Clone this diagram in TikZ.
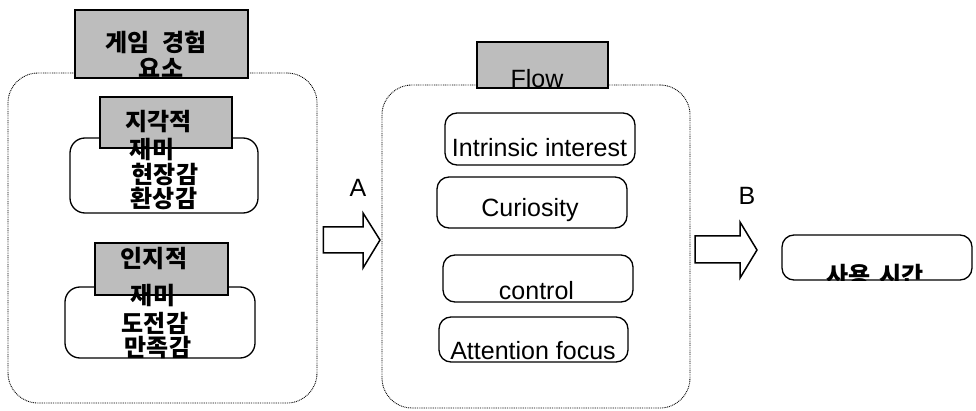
\documentclass[tikz,border=0pt]{standalone}
\usepackage{fontspec}
\usetikzlibrary{calc}
\setmainfont{Liberation Sans}
\newfontfamily\krfont{Noto Sans CJK KR}
\begin{document}
\begin{tikzpicture}[x=1pt,y=-1pt,
  group/.style={draw, rounded corners=30pt, line width=0.9pt, dash pattern=on 0.9pt off 0.9pt},
  tag/.style={draw, fill=black!26, line width=1.8pt, inner sep=0},
  item/.style={draw, rounded corners=12pt, line width=1.3pt, inner sep=0},
  krtxt/.style={font=\krfont\bfseries\fontsize{24pt}{26pt}\selectfont, inner sep=0, anchor=base},
  entxt/.style={font=\fontsize{25pt}{27pt}\selectfont, inner sep=0, anchor=base},
  fat/.style={draw, line width=1.5pt, line join=miter, fill=white}]
\useasboundingbox (0,0) rectangle (976,411);

% ---- left group: game experience elements ----
\node[group, minimum width=309pt, minimum height=330pt] (L) at (162.5,238) {};
\node[tag, minimum width=173pt, minimum height=68pt] (T1) at (161.5,44) {};
\node[krtxt] (T1a) at (156,52) {게임\hspace{0.5em}경험};
\begin{scope}
  \clip (T1.south west) rectangle (T1.north east);
  \node[krtxt] (T1b) at (161,78) {요소};
\end{scope}

\node[item, rounded corners=15pt, minimum width=188pt, minimum height=75pt] (P1) at (164,175.5) {};
\node[tag, minimum width=132pt, minimum height=51pt] (P1t) at (166,122.5) {};
\node[krtxt] (P1a) at (158.5,131) {지각적};
\node[krtxt] (P1b) at (152,159) {재미};
\node[krtxt] (P1c) at (165,184) {현장감};
\node[krtxt] (P1d) at (164,208) {환상감};

\node[item, rounded corners=15pt, minimum width=190pt, minimum height=71pt] (P2) at (160,322.5) {};
\node[tag, minimum width=133pt, minimum height=52pt] (P2t) at (161.5,269) {};
\node[krtxt] (P2a) at (154,268) {인지적};
\node[krtxt] (P2b) at (153,305) {재미};
\node[krtxt] (P2c) at (155,332) {도전감};
\node[krtxt] (P2d) at (158,356) {만족감};

% ---- middle group: flow ----
\node[group, minimum width=308pt, minimum height=323pt] (M) at (536,246.5) {};
\node[tag, minimum width=131pt, minimum height=46pt] (FT) at (542.5,65) {};
\begin{scope}
  \clip (FT.south west) rectangle (FT.north east);
  \node[entxt] (FTa) at (537,88) {Flow};
\end{scope}

\node[item, minimum width=190pt, minimum height=52pt] (I1) at (540,139) {};
\node[entxt] (I1a) at (539.5,157) {Intrinsic interest};
\node[item, minimum width=190pt, minimum height=51pt] (I2) at (532,202.5) {};
\node[entxt] (I2a) at (530,217) {Curiosity};
\node[item, minimum width=190pt, minimum height=47pt] (I3) at (538,278.5) {};
\node[entxt] (I3a) at (536.5,300) {control};
\node[item, minimum width=189pt, minimum height=45pt] (I4) at (533.5,339.5) {};
\node[entxt] (I4a) at (533,359) {Attention focus};

% ---- right: usage time ----
\node[item, minimum width=190pt, minimum height=45pt] (U) at (877,257.5) {};
\begin{scope}
  \clip[rounded corners=12pt] (U.south west) rectangle (U.north east);
  \node[krtxt] (Ua) at (875,284) {사용\hspace{0.4em}시간};
\end{scope}

% ---- block arrows between the groups ----
\coordinate (Aa) at ($(L.east)+(6,2)$);
\coordinate (Ab) at (380,240);
\draw[fat] (Aa|-0,227) -- (363,227) -- (363,213) -- (Ab) -- (363,268) -- (363,253) -- (Aa|-0,253) -- cycle;
\node[entxt] (Alab) at (358,197) {A};

\coordinate (Ba) at (695,250);
\coordinate (Bb) at (757,250);
\draw[fat] (Ba|-0,236) -- (740,236) -- (740,222) -- (Bb) -- (740,278) -- (740,263) -- (Ba|-0,263) -- cycle;
\node[entxt] (Blab) at (747,205) {B};
\end{tikzpicture}
\end{document}
